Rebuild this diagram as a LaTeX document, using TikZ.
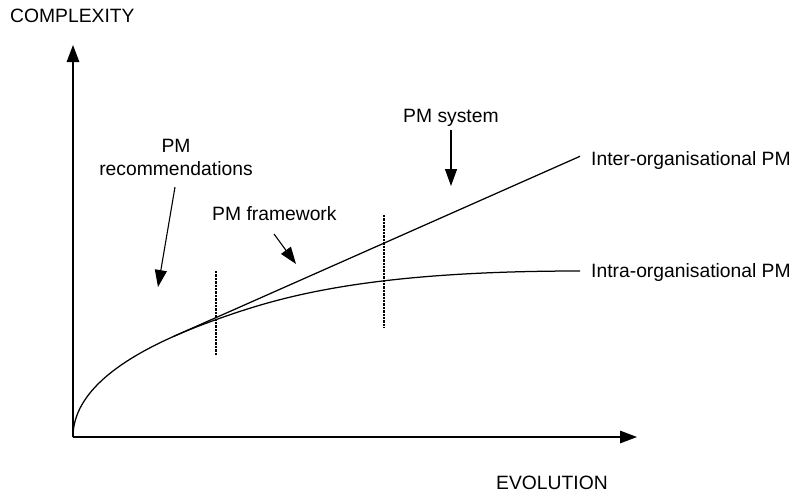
\documentclass[tikz,border=0pt]{standalone}
\usepackage{fontspec}
\setmainfont{Liberation Sans}
\usetikzlibrary{arrows.meta}
\begin{document}
\begin{tikzpicture}[x=1pt,y=-1pt,
  lbl/.style={inner sep=0pt,font=\fontsize{19.3}{23}\selectfont},
  axis/.style={line width=1.4pt,-{Triangle[length=17pt,width=12.5pt]}},
  curve/.style={line width=1.25pt},
  pointer/.style={line width=1.1pt,-{Triangle[length=17pt,width=12pt]}},
  stage/.style={line width=2.8pt,dash pattern=on 2.3pt off 1.1pt}]
\useasboundingbox (0,0) rectangle (799,495);
% axes
\coordinate (O) at (73,437);
\coordinate (Ytop) at (73,45);
\coordinate (Xend) at (637,437);
\draw[axis] (O) -- (Ytop);
\draw[axis] (O) -- (Xend);
\node[lbl,anchor=base west] (ylab) at (10,23) {COMPLEXITY};
\node[lbl,anchor=base west] (xlab) at (496,489) {EVOLUTION};
% intra-organisational growth curve
\coordinate (IntraEnd) at (580,271);
\draw[curve] plot[domain=0:11.916,samples=90,variable=\s]
  ({73+\s*\s},{437-(11.14*\s-0.111*\s*\s)})
  .. controls (275,298.6) and (360,271) .. (IntraEnd);
% inter-organisational line, tangent to the curve
\coordinate (T) at (173.8,336.3);
\coordinate (InterEnd) at (580,156.3);
\draw[curve] (T) -- (InterEnd);
\node[lbl,anchor=base west] (inter) at (591,165) {Inter-organisational PM};
\node[lbl,anchor=base west] (intra) at (591,277) {Intra-organisational PM};
% stage boundaries
\coordinate (S1a) at (216,271); \coordinate (S1b) at (216,355);
\coordinate (S2a) at (384,215); \coordinate (S2b) at (384,328);
\draw[stage] (S1a) -- (S1b);
\draw[stage] (S2a) -- (S2b);
% stage labels with pointers
\node[lbl,anchor=base] (recA) at (176,152) {PM};
\node[lbl,anchor=base] (recB) at (176,175) {recommendations};
\coordinate (recF) at (175,187); \coordinate (recT) at (158,287);
\draw[pointer] (recF) -- (recT);
\node[lbl,anchor=base west] (frame) at (212,220) {PM framework};
\coordinate (frF) at (274,234); \coordinate (frT) at (296,264);
\draw[pointer] (frF) -- (frT);
\node[lbl,anchor=base west] (sys) at (403,122) {PM system};
\coordinate (syF) at (451,130); \coordinate (syT) at (451,186);
\draw[pointer] (syF) -- (syT);
\end{tikzpicture}
\end{document}
